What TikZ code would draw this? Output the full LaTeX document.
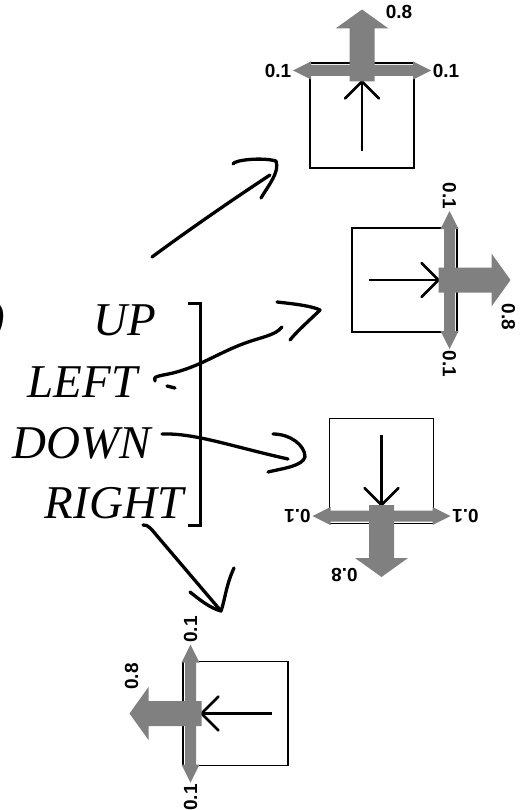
\documentclass[tikz,border=0pt]{standalone}
\usepackage{fontspec}
\setmainfont{Liberation Serif}
\newfontfamily\numfont{Liberation Sans}
\definecolor{garrow}{RGB}{128,128,128}
\tikzset{
  boxline/.style={draw=black, line width=1.8pt},
  innerarr/.style={draw=black, line width=2.7pt},
  garr/.style={fill=garrow},
  num/.style={font=\numfont\bfseries\fontsize{19}{19}\selectfont, inner sep=0pt, transform shape},
  word/.style={font=\itshape\fontsize{47}{47}\selectfont, inner sep=0pt, anchor=base},
  hand/.style={draw=black, line width=3.3pt, line cap=round, line join=round},
  pics/qbox/.style={code={
    \draw[boxline] (-52,-52.5) rectangle (52,52.5);
    \draw[innerarr] (0,36) -- (0,-34);
    \draw[innerarr, line cap=round] (-17,-17) -- (0,-34) -- (17,-17);
    \fill[garr] (-69,-45) -- (-51,-54) -- (-51,-50.5) -- (51,-50.5) -- (51,-54)
       -- (69,-45) -- (51,-36) -- (51,-39.5) -- (-51,-39.5) -- (-51,-36) -- cycle;
    \fill[garr] (-12.5,-34) -- (-12.5,-87) -- (-26.5,-87) -- (0,-106)
       -- (26.5,-87) -- (12.5,-87) -- (12.5,-34) -- cycle;
    \node[num] (-lab8) at (37,-104) {0.8};
    \node[num] (-labl) at (-84,-45) {0.1};
    \node[num] (-labr) at (84,-45) {0.1};
    \coordinate (-c) at (0,0);
  }}
}
\begin{document}
\begin{tikzpicture}[x=1pt,y=-1pt]
  \useasboundingbox (0,0) rectangle (529,810);
  % boxes
  \pic (b1) at (362,115.5) {qbox};
  \pic[rotate=-90] (b2) at (404.5,280) {qbox};
  \pic[rotate=180] (b3) at (381.5,471) {qbox};
  \pic[rotate=90] (b4) at (235.5,713.5) {qbox};
  % words
  \node[word] (up) at (125,335) {UP};
  \node[word] (left) at (82.5,397) {LEFT};
  \node[word] (down) at (82,458) {DOWN};
  \node[word] (right) at (114,518) {RIGHT};
  \node[word, anchor=east] (paren) at (5,322) {)};
  % bracket
  \coordinate (brt) at (188,303);
  \coordinate (brb) at (188,525);
  \draw[line width=3pt] (brt) -- (200,303) -- (200,525) -- (brb);
  % stroke 1: UP -> box 1
  \coordinate (s1a) at (152,257);
  \coordinate (s1b) at (270,175);
  \draw[hand] (s1a) .. controls (190,229) and (232,200) .. (s1b);
  \draw[hand] (233,164) .. controls (234,160) and (262,157) .. (276,161)
     .. controls (280,172) and (268,186) .. (261,198);
  % stroke 2: LEFT -> box 2
  \coordinate (s2a) at (155,381);
  \coordinate (s2b) at (282,327);
  \draw[hand] (s2a) .. controls (152,376) and (160,376) .. (173,373)
     .. controls (200,366) and (215,355) .. (240,345)
     .. controls (260,337) and (275,336) .. (s2b);
  \draw[hand] (167,386) -- (175,388);
  \draw[hand] (277,302) .. controls (295,304) and (312,306) .. (320,310)
     .. controls (310,320) and (298,330) .. (290,340);
  % stroke 3: DOWN -> box 3
  \coordinate (s3a) at (162,434);
  \coordinate (s3b) at (288,459);
  \draw[hand] (s3a) .. controls (195,433) and (230,446) .. (s3b);
  \draw[hand] (273,434) .. controls (290,434) and (305,445) .. (305,457)
     .. controls (302,466) and (285,468) .. (268,472);
  % stroke 4: RIGHT -> box 4
  \coordinate (s4a) at (143,525);
  \coordinate (s4b) at (221,611);
  \draw[hand] (s4a) .. controls (148,524) and (152,530) .. (158,537) -- (s4b);
  \draw[hand] (190,592) .. controls (200,600) and (210,608) .. (s4b)
     .. controls (225,600) and (226,585) .. (234,568);
\end{tikzpicture}
\end{document}
